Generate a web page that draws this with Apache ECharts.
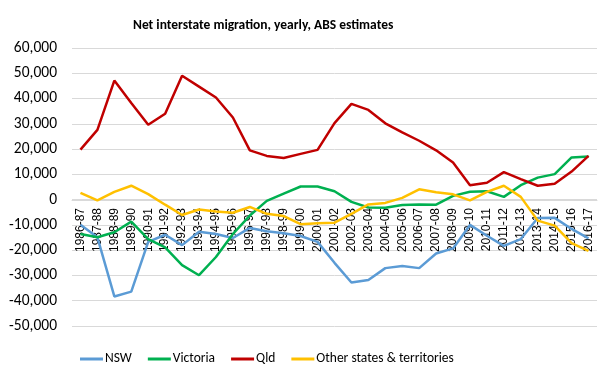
<!DOCTYPE html>
<html><head><meta charset="utf-8">
<script src="https://cdn.jsdelivr.net/npm/echarts@6/dist/echarts.min.js"></script>
<style>html,body{margin:0;padding:0;background:#fff}#c{width:612px;height:379px}</style>
</head><body><div id="c"></div>
<script>
var categories = ['1986-87','1987-88','1988-89','1989-90','1990-91','1991-92','1992-93','1993-94','1994-95','1995-96','1996-97','1997-98','1998-99','1999-00','2000-01','2001-02','2002-03','2003-04','2004-05','2005-06','2006-07','2007-08','2008-09','2009-10','2010-11','2011-12','2012-13','2013-14','2014-15','2015-16','2016-17'];
var nsw = [-9900,-14900,-38300,-36400,-16700,-13900,-18000,-12700,-13600,-15200,-11200,-12500,-13300,-14400,-16700,-25000,-32800,-31800,-27100,-26300,-27100,-21300,-19300,-10000,-14300,-18300,-15600,-7300,-7200,-11600,-15300];
var victoria = [-13600,-14900,-12900,-8700,-15600,-18900,-25900,-29900,-22700,-13600,-6300,-500,2400,5200,5200,3300,-900,-3100,-3200,-2100,-1900,-2000,1500,3100,3300,1100,5700,8700,10100,16700,17100];
var qld = [19800,27600,47100,38200,29600,34000,49000,44700,40400,32500,19500,17300,16500,18100,19700,30300,37900,35500,30200,26600,23300,19500,14700,5700,6700,10900,8100,5500,6300,11100,17300];
var other = [2700,-300,3100,5500,2200,-2000,-6100,-3900,-4700,-5200,-2900,-5600,-6500,-9700,-9300,-9100,-5600,-1900,-1300,700,4100,2900,2100,-300,3100,5500,1100,-8300,-10300,-17200,-20300];
var seriesNames = ['NSW','Victoria','Qld','Other states & territories'];
var seriesColors = ['#5B9BD5','#00B050','#C00000','#FFC000'];
var seriesData = [nsw, victoria, qld, other];
var yMin = -50000, yMax = 60000, yStep = 10000;
var titleText = 'Net interstate migration, yearly, ABS estimates';

var FONT = "Carlito, 'Liberation Sans Narrow', 'Liberation Sans', sans-serif";
var XFONT = "'Liberation Sans', Arial, sans-serif";
// pick font sizes so that text widths match the reference
var ctx = document.createElement('canvas').getContext('2d');
function fitSize(text, family, weight, targetW) {
  ctx.font = (weight || 'normal') + ' 100px ' + family;
  return Math.round(100 * targetW / ctx.measureText(text).width * 2) / 2;
}
var titleSize = fitSize(titleText, FONT, 'bold', 265);
var legendSize = fitSize('Other states & territories', FONT, 'normal', 140);
var ySize = fitSize('-50,000', FONT, 'normal', 48);
var xSize = fitSize('1986-87', XFONT, 'normal', 44);

var gridTop = 48, gridBottom = 53, H = 379;
var plotH = H - gridTop - gridBottom;
var zeroOffset = -Math.round(plotH * (0 - yMin) / (yMax - yMin));

var chart = echarts.init(document.getElementById('c'), null, {renderer:'canvas'});
chart.setOption({
  animation:false,
  title:{text:titleText,left:128,top:22 - titleSize*0.6,
    textStyle:{fontFamily:FONT,fontSize:titleSize,fontWeight:'bold',color:'#000'}},
  legend:{top:356 - 9,left:75,itemWidth:23,itemHeight:3,itemGap:16,icon:'rect',
    textStyle:{fontFamily:FONT,fontSize:legendSize,color:'#000',padding:[0,0,0,-3]},
    data:seriesNames},
  grid:{left:72,right:15,top:gridTop,bottom:gridBottom,containLabel:false},
  xAxis:{type:'category',data:categories,boundaryGap:true,position:'bottom',offset:zeroOffset,
    axisLine:{onZero:false,lineStyle:{color:'#D9D9D9',width:1}},
    axisTick:{show:false},
    axisLabel:{rotate:90,interval:0,margin:8,fontFamily:XFONT,fontSize:xSize,color:'#000'}},
  yAxis:{type:'value',min:yMin,max:yMax,interval:yStep,
    axisLine:{show:false},axisTick:{show:false},
    splitLine:{lineStyle:{color:'#D9D9D9',width:1}},
    axisLabel:{margin:15,fontFamily:FONT,fontSize:ySize,color:'#000',
      formatter:function(v){return v.toLocaleString('en-US');}}},
  series:seriesData.map(function(d,i){return {name:seriesNames[i],type:'line',data:d,
    symbol:'none',lineStyle:{color:seriesColors[i],width:2.5},itemStyle:{color:seriesColors[i]}};})
});
</script></body></html>
